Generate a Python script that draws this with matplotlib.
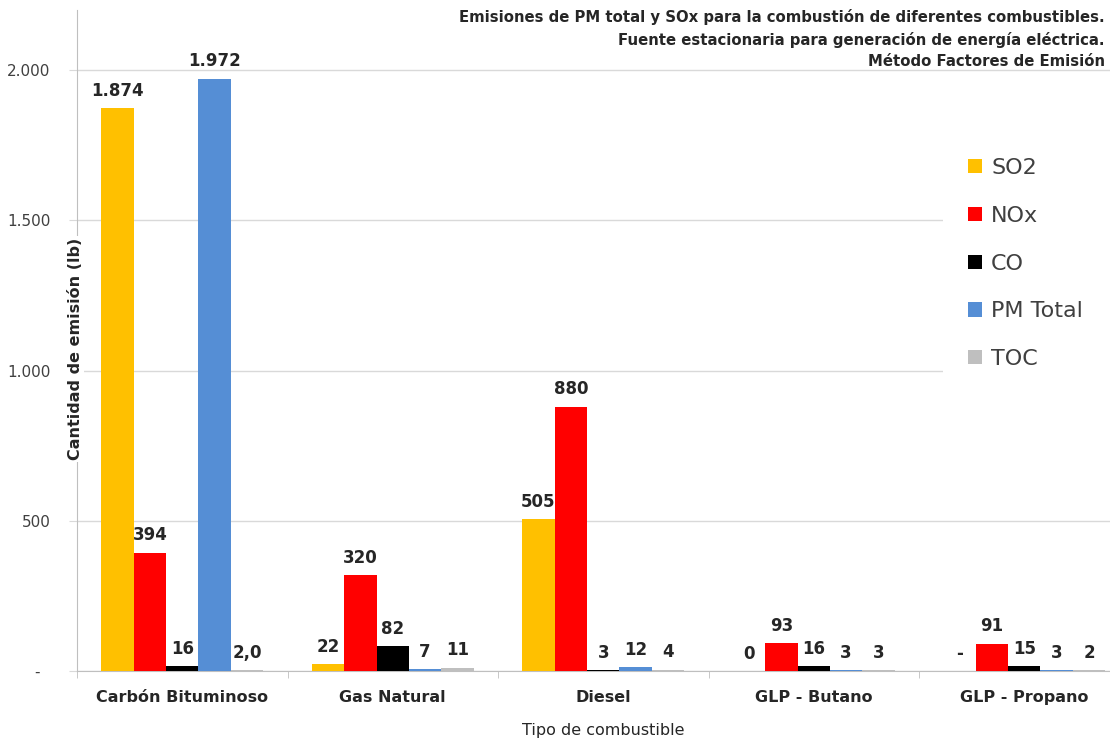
import matplotlib
matplotlib.use("Agg")
import matplotlib.pyplot as plt
import numpy as np
from matplotlib.patches import Rectangle

plt.rcParams['font.family'] = ['DejaVu Sans']

combustibles = ['Carbón Bituminoso', 'Gas Natural', 'Diesel', 'GLP - Butano', 'GLP - Propano']
series = ['SO2', 'NOx', 'CO', 'PM Total', 'TOC']
so2 = [1874, 22, 505, 0.2, 0]
nox = [394, 320, 880, 93, 91]
co = [16, 82, 3, 16, 15]
pm_total = [1972, 7, 12, 3, 3]
toc = [2.0, 11, 4, 3, 2]
colores = ['#FFC000', '#FF0000', '#000000', '#558ED5', '#BFBFBF']
# the coal TOC value is shown with one decimal
decimales = {('TOC', 0): 1}

titulo = ('Emisiones de PM total y SOx para la combustión de diferentes combustibles.\n'
          'Fuente estacionaria para generación de energía eléctrica.\n'
          'Método Factores de Emisión')


def formato(v, dec=0):
    if v == 0:
        return '-'
    s = f'{v:,.{dec}f}'
    return s.replace(',', '_').replace('.', ',').replace('_', '.')


fig = plt.figure(figsize=(11.1, 7.4), dpi=100)
ax = fig.add_axes([77 / 1110, 69 / 740, 1052.5 / 1110, 661 / 740])

x = np.arange(len(combustibles))
ancho = 0.154
valores = [so2, nox, co, pm_total, toc]
for k, (nombre, vals, color) in enumerate(zip(series, valores, colores)):
    pos = x + (k - 2) * ancho
    ax.bar(pos, vals, ancho, color=color, label=nombre, zorder=3)
    for i, (p, v) in enumerate(zip(pos, vals)):
        ax.annotate(formato(v, decimales.get((nombre, i), 0)), (p, v),
                    xytext=(0, 6), textcoords='offset points',
                    ha='center', va='bottom', fontsize=12, fontweight='bold',
                    color='#262626')

ax.set_xlim(-0.5, 4.5)
ax.set_ylim(0, 2200)
ax.set_yticks([0, 500, 1000, 1500, 2000])
ax.set_yticklabels(['-  ', '500', '1.000', '1.500', '2.000'])
ax.yaxis.grid(True, color='#D9D9D9', linewidth=1, zorder=0)
ax.set_axisbelow(True)

ax.set_xticks(x)
ax.set_xticklabels(combustibles, fontsize=11.5, fontweight='bold', color='#262626')
ax.set_xticks(np.arange(-0.5, 5, 1), minor=True)
ax.tick_params(axis='x', which='major', length=0, pad=14)
ax.tick_params(axis='x', which='minor', length=5, color='#BFBFBF')
ax.tick_params(axis='y', length=6, color='#D9D9D9', labelsize=11,
               labelcolor='#404040', pad=13)

for lado in ['top', 'right']:
    ax.spines[lado].set_visible(False)
ax.spines['left'].set_color('#BFBFBF')
ax.spines['bottom'].set_color('#BFBFBF')

# y label sits over the axis line on a white box
fig.text(75 / 1110, 1 - 349 / 740, 'Cantidad de emisión (lb)', rotation=90,
         ha='center', va='center', fontsize=11.5, fontweight='bold',
         color='#262626', bbox=dict(facecolor='white', edgecolor='none', pad=1))
fig.text(603 / 1110, 1 - 730 / 740, 'Tipo de combustible', ha='center',
         va='center', fontsize=11.5, color='#262626')

fig.text(1105 / 1110, 1 - 9 / 740, titulo, ha='right', va='top', fontsize=10.7,
         fontweight='bold', color='#262626', linespacing=1.5)

# white area behind the legend hides the gridlines there
ax.add_patch(Rectangle((943 / 1110, 1 - 395 / 740), 170 / 1110, 255 / 740,
                       transform=fig.transFigure, facecolor='white',
                       edgecolor='none', zorder=1, clip_on=False))
leg = ax.legend(loc='upper left', bbox_to_anchor=(968 / 1110, 1 - 158 / 740),
                bbox_transform=fig.transFigure, frameon=False, fontsize=16,
                handlelength=0.62, handleheight=0.62, handletextpad=0.42,
                labelspacing=1.25, borderpad=0, borderaxespad=0)
for t in leg.get_texts():
    t.set_color('#404040')

fig.savefig('out.png', dpi=100)
